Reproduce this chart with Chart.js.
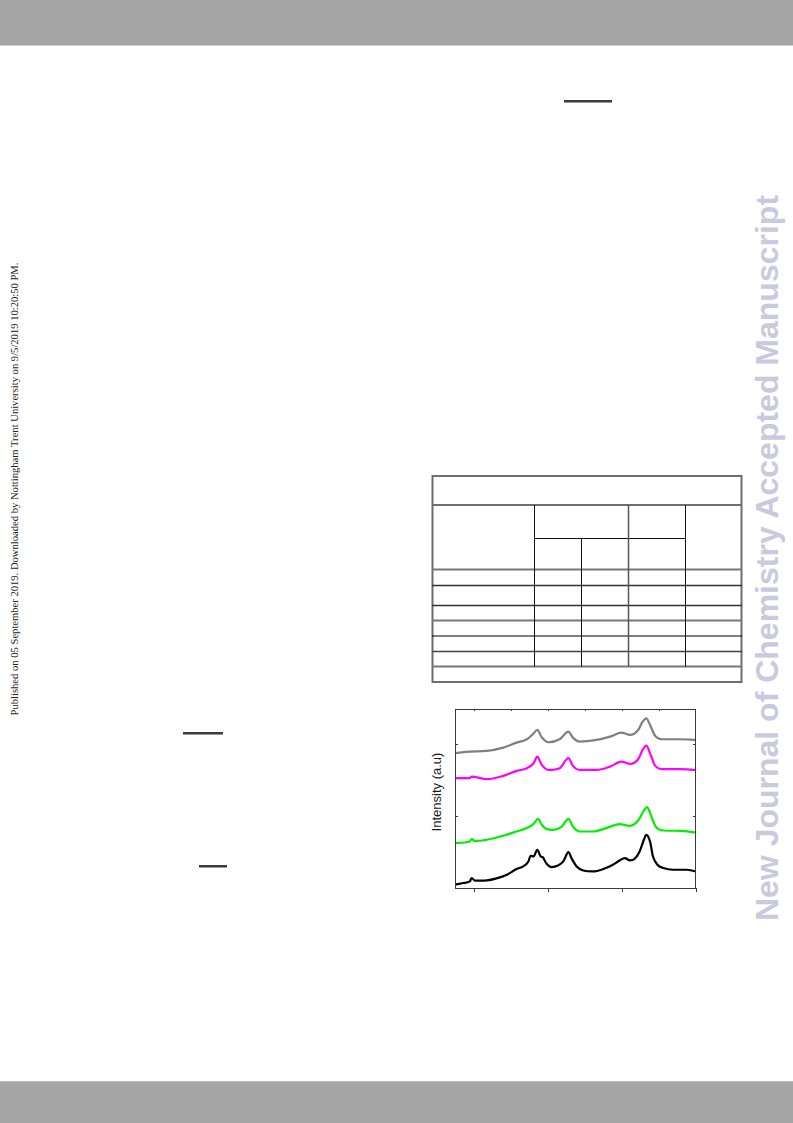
<!DOCTYPE html>
<html>
<head>
<meta charset="utf-8">
<script src="https://cdn.jsdelivr.net/npm/chart.js@4.4.1/dist/chart.umd.min.js"></script>
<style>
  html, body { margin: 0; padding: 0; background: #fff; }
  body { width: 793px; height: 1123px; position: relative; overflow: hidden; }
  .bar { position: absolute; left: 0; width: 793px; background: #a6a6a6; }
  .rot { position: absolute; white-space: nowrap; transform: translate(-50%, -50%) rotate(-90deg); }
  .ul { position: absolute; height: 2px; background: #3c3c3c; border-bottom: 1px solid #9a9a9a; }
  #wrap { position: absolute; left: 445px; top: 699px; width: 261px; height: 200px; }
  svg { position: absolute; left: 0; top: 0; }
</style>
</head>
<body>
<div class="bar" style="top:0;height:45px;border-bottom:1px solid #d2d2d2;"></div>
<div class="bar" style="top:1081px;height:42px;border-top:1px solid #bcbcbc;"></div>

<div class="ul" style="left:564px;top:100px;width:48px;"></div>
<div class="ul" style="left:183px;top:732px;width:40px;"></div>
<div class="ul" style="left:199px;top:865px;width:28px;"></div>

<div class="rot" style="left:14px;top:489px;font-family:'Liberation Serif','Times New Roman',serif;font-size:10.6px;color:#222;">Published on 05 September 2019. Downloaded by Nottingham Trent University on 9/5/2019 10:20:50 PM.</div>

<div class="rot" style="left:767px;top:558px;font-family:'Liberation Sans',Arial,sans-serif;font-weight:bold;font-size:32px;color:#c9c9df;">New Journal of Chemistry Accepted Manuscript</div>

<svg width="793" height="1123">
  <g fill="none">
    <rect x="432.5" y="476" width="309" height="206" stroke="#6e6e6e" stroke-width="2"/>
    <line x1="432" y1="505" x2="742" y2="505" stroke="#6e6e6e" stroke-width="2"/>
    <line x1="534.5" y1="538.5" x2="685.5" y2="538.5" stroke="#111" stroke-width="1"/>
    <line x1="432" y1="569.5" x2="742" y2="569.5" stroke="#777" stroke-width="2"/>
    <line x1="432" y1="585.5" x2="742" y2="585.5" stroke="#333" stroke-width="1.5"/>
    <line x1="432" y1="605.5" x2="742" y2="605.5" stroke="#333" stroke-width="1.5"/>
    <line x1="432" y1="620.5" x2="742" y2="620.5" stroke="#777" stroke-width="2"/>
    <line x1="432" y1="636" x2="742" y2="636" stroke="#000" stroke-width="1"/>
    <line x1="432" y1="651.5" x2="742" y2="651.5" stroke="#444" stroke-width="1.5"/>
    <line x1="432" y1="666.5" x2="742" y2="666.5" stroke="#777" stroke-width="2"/>
    <line x1="534.5" y1="505" x2="534.5" y2="666.5" stroke="#111" stroke-width="1"/>
    <line x1="581.5" y1="538.5" x2="581.5" y2="666.5" stroke="#111" stroke-width="1"/>
    <line x1="628.5" y1="505" x2="628.5" y2="666.5" stroke="#555" stroke-width="1.5"/>
    <line x1="685.5" y1="505" x2="685.5" y2="666.5" stroke="#111" stroke-width="1"/>
  </g>
</svg>

<div class="rot" style="left:436px;top:792px;font-family:'Liberation Sans',Arial,sans-serif;font-size:13px;color:#1a1a1a;">Intensity (a.u)</div>

<div id="wrap"><canvas id="c" width="261" height="200"></canvas></div>

<script>
// 2θ (degrees) and intensity (a.u.)
const blackX = [7.5, 8.6, 9.5, 9.75, 10.2, 11.8, 13.1, 14.5, 15.8, 16.7, 17.4, 17.7, 18.1, 18.6, 19.05, 19.3, 19.85, 20.5, 21.4, 22.1, 22.8, 23.2, 23.9, 24.8, 26.1, 27.5, 28.8, 29.7, 30.4, 31.1, 31.7, 32.4, 32.97, 33.3, 33.8, 34.2, 34.8, 35.6, 36.9, 38.7, 40];
const blackY = [3.3, 5, 6.6, 10, 7.3, 7.6, 9.6, 13.3, 19, 21.6, 26.6, 32.3, 31.6, 38.3, 31.6, 31, 24.3, 21, 22.6, 26.6, 36, 30, 21.6, 17.6, 16.6, 19, 23.3, 27.6, 30, 27.6, 29, 36.6, 48.3, 53.3, 46.6, 31.6, 23.3, 20, 18.3, 18.3, 16.6];

const greenX = [7.5, 9.5, 9.75, 10.2, 11.8, 14, 15.8, 17.2, 18.1, 18.7, 19.2, 19.85, 20.75, 21.9, 22.8, 23.4, 24.3, 26.1, 27.9, 29.7, 31.1, 32.2, 32.9, 33.4, 33.9, 34.5, 35.6, 37.8, 40];
const greenY = [45, 46.6, 49, 47, 48.3, 52.3, 56.6, 60, 64.3, 69.3, 63.3, 59, 58.3, 61.6, 69.3, 61.6, 56.6, 56.6, 60, 64, 62.3, 67.6, 76.6, 81, 73.3, 62.3, 57.6, 57.3, 55.6];

const magentaX = [7.5, 9.5, 9.75, 11.8, 14, 15.8, 17.2, 18.1, 18.6, 19.2, 20.1, 21.6, 22.8, 23.4, 24.3, 26.6, 28.4, 29.95, 31.1, 32.2, 32.8, 33.3, 33.8, 34.5, 35.6, 37.8, 40];
const magentaY = [110, 110, 111.6, 109, 112.3, 117.3, 120, 125, 131.6, 123.3, 118.3, 120, 130, 122.3, 118.3, 118.3, 121.6, 126.6, 124.3, 129, 138.3, 142.6, 135, 122.3, 119, 119, 118.3];

const grayX = [7.5, 9.5, 11.8, 14, 15.8, 17.2, 18, 18.6, 19.2, 20.1, 21.6, 22.8, 23.4, 24.3, 26.6, 28.4, 29.95, 31.1, 32.2, 32.8, 33.3, 33.8, 34.5, 35.6, 37.8, 40];
const grayY = [135, 136.6, 137.3, 140.6, 145.6, 149, 154, 158.3, 151, 146, 149, 156.6, 150.6, 146.6, 148.3, 151.6, 155.6, 153.3, 158.3, 166.6, 170, 163.3, 152.3, 149, 149, 148.3];

const xMin = 7.5, xMax = 40;
const xMajorTicks = [10, 20, 30, 40];
const xTopTicks = [10, 15, 20, 25, 30, 35];
const yMin = 0, yMax = 179.3;
const yTicks = [72.3, 144.6];

function pts(xs, ys) { return xs.map((x, i) => ({ x: x, y: ys[i] })); }

const framePlugin = {
  id: 'frame',
  afterDatasetsDraw(chart) {
    const { ctx, chartArea: a, scales } = chart;
    ctx.save();
    ctx.strokeStyle = '#3a3a3a';
    ctx.lineWidth = 1;
    ctx.strokeRect(a.left + 0.5, a.top + 0.5, a.right - a.left - 1, a.bottom - a.top);
    ctx.beginPath();
    xMajorTicks.forEach(v => {
      const px = Math.round(scales.x.getPixelForValue(v)) + 0.5;
      ctx.moveTo(px, a.bottom); ctx.lineTo(px, a.bottom + 4);
    });
    xTopTicks.forEach(v => {
      const px = Math.round(scales.x.getPixelForValue(v)) + 0.5;
      ctx.moveTo(px, a.top); ctx.lineTo(px, a.top + 2);
    });
    yTicks.forEach(v => {
      const py = Math.round(scales.y.getPixelForValue(v)) + 0.5;
      ctx.moveTo(a.left, py); ctx.lineTo(a.left + 3, py);
      ctx.moveTo(a.right, py); ctx.lineTo(a.right - 3, py);
    });
    ctx.stroke();
    ctx.restore();
  }
};

const ds = (label, xs, ys, color) => ({
  label, data: pts(xs, ys), borderColor: color, backgroundColor: color,
  borderWidth: 2.2, pointRadius: 0, cubicInterpolationMode: 'monotone', fill: false
});

new Chart(document.getElementById('c'), {
  type: 'line',
  data: {
    datasets: [
      ds('black', blackX, blackY, '#000000'),
      ds('green', greenX, greenY, '#00f000'),
      ds('magenta', magentaX, magentaY, '#ff00ff'),
      ds('gray', grayX, grayY, '#808080')
    ]
  },
  options: {
    responsive: false,
    animation: false,
    events: [],
    layout: { padding: { left: 10, top: 10, right: 10, bottom: 11 } },
    plugins: { legend: { display: false }, tooltip: { enabled: false } },
    scales: {
      x: { type: 'linear', min: xMin, max: xMax, display: false },
      y: { type: 'linear', min: yMin, max: yMax, display: false }
    }
  },
  plugins: [framePlugin]
});
</script>
</body>
</html>
